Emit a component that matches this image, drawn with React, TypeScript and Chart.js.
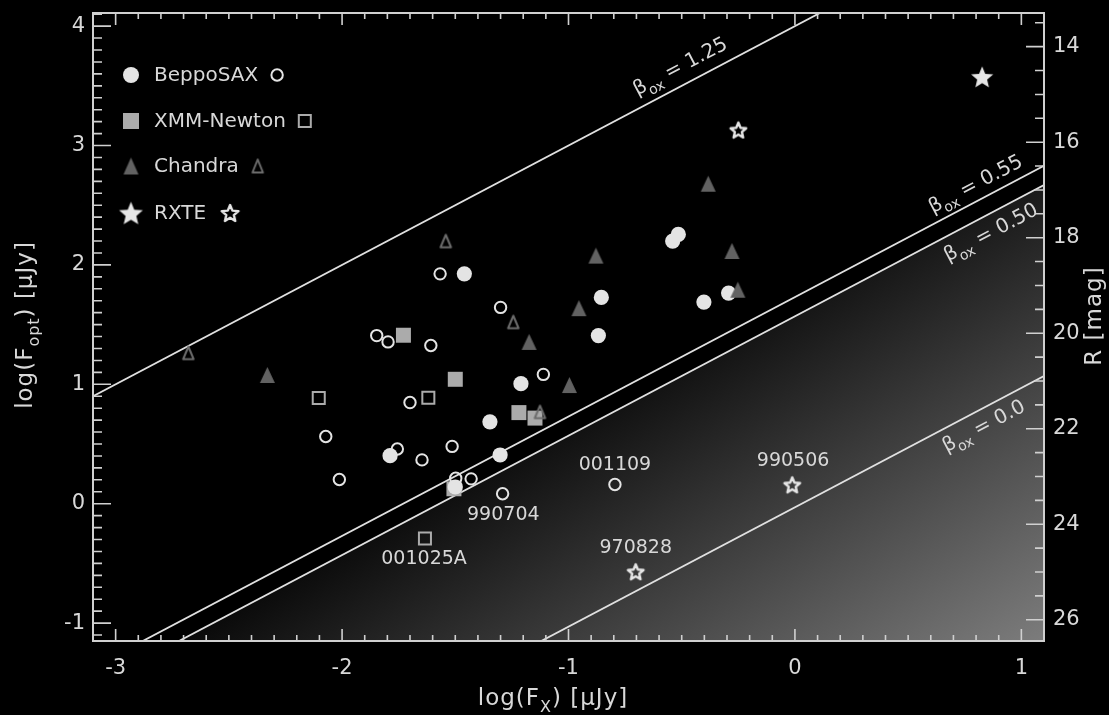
import React, { useEffect, useRef } from 'react';
import { Chart, registerables } from 'chart.js';

Chart.register(...registerables);

// ---- axis ranges ----
const X_MIN = -3.1;
const X_MAX = 1.1;
const Y_MIN = -1.15;
const Y_MAX = 4.11;
const R_MIN = 13.295; // R [mag] at top
const R_MAX = 26.445; // R [mag] at bottom

// ---- BeppoSAX ----
const saxFilledX = [-1.46, -0.855, -0.868, -1.21, -1.347, -1.302, -1.788, -1.5, -0.54, -0.515, -0.402, -0.293];
const saxFilledY = [1.925, 1.728, 1.408, 1.005, 0.686, 0.408, 0.402, 0.14, 2.2, 2.255, 1.689, 1.764];
const saxOpenX = [-2.072, -2.012, -1.847, -1.797, -1.756, -1.567, -1.3, -1.608, -1.7, -1.111, -1.647, -1.514, -1.498, -1.43, -1.291, -0.795];
const saxOpenY = [0.563, 0.203, 1.408, 1.355, 0.458, 1.925, 1.644, 1.325, 0.847, 1.083, 0.367, 0.48, 0.213, 0.208, 0.083, 0.161];
// ---- XMM-Newton ----
const xmmFilledX = [-1.729, -1.5, -1.219, -1.148, -1.506];
const xmmFilledY = [1.411, 1.042, 0.763, 0.717, 0.125];
const xmmOpenX = [-2.103, -1.619, -1.634];
const xmmOpenY = [0.886, 0.888, -0.292];
// ---- Chandra ----
const chaFilledX = [-2.33, -1.174, -0.996, -0.383, -0.879, -0.278, -0.954, -0.252];
const chaFilledY = [1.078, 1.355, 0.994, 2.68, 2.078, 2.117, 1.638, 1.792];
const chaOpenX = [-2.679, -1.542, -1.244, -1.126];
const chaOpenY = [1.263, 2.2, 1.522, 0.769];
// ---- RXTE ----
const rxteFilledX = [0.827];
const rxteFilledY = [3.575];
const rxteOpenX = [-0.25, -0.012, -0.703];
const rxteOpenY = [3.13, 0.158, -0.57];

// ---- beta_ox lines (end points) ----
const betaLineX = [-3.3, 1.3];
const beta125Y = [0.7, 5.3];
const beta055Y = [-1.57, 3.03];
const beta050Y = [-1.73, 2.87];
const beta000Y = [-3.33, 1.27];
const betaTexts = ['1.25', '0.55', '0.50', '0.0'];
const betaLabelX = [-0.47, 0.83, 0.83, 0.8];
const betaLabelSide = [-19, -17, 16, 15];

// ---- burst annotations ----
const annoLabels = ['001025A', '990704', '001109', '970828', '990506'];
const annoX = [-1.638, -1.288, -0.795, -0.703, -0.008];
const annoY = [-0.465, -0.092, 0.325, -0.375, 0.36];

// ---- legend ----
const legendLabels = ['BeppoSAX', 'XMM-Newton', 'Chandra', 'RXTE'];

const FONT = "'DejaVu Sans', 'Liberation Sans', sans-serif";
const TEXT = '#d8d8d8';
const AXIS = '#d0d0d0';
const LINE = '#e0e0e0';
const SAX_C = '#e4e4e4';
const XMM_C = '#ababab';
const CHA_F = '#626262';
const CHA_O = '#6c6c6c';
const RX_C = '#e6e6e6';

const pts = (xs: number[], ys: number[]) => xs.map((x, i) => ({ x, y: ys[i] }));

function makeTri(w: number, h: number, color: string, hollow: boolean, lw: number) {
  const c = document.createElement('canvas');
  const pad = lw + 2;
  c.width = Math.ceil(w + pad * 2);
  c.height = Math.ceil(h + pad * 2);
  const g = c.getContext('2d')!;
  const cx = c.width / 2, cy = c.height / 2;
  g.beginPath();
  g.moveTo(cx, cy - h / 2);
  g.lineTo(cx + w / 2, cy + h / 2);
  g.lineTo(cx - w / 2, cy + h / 2);
  g.closePath();
  if (hollow) {
    g.lineWidth = lw;
    g.lineJoin = 'round';
    g.strokeStyle = color;
    g.stroke();
  } else {
    g.fillStyle = color;
    g.fill();
  }
  return c;
}

function makeStar(R: number, ratio: number, color: string, hollow: boolean, lw: number) {
  const c = document.createElement('canvas');
  const size = Math.ceil(R * 2 + lw + 4);
  c.width = size;
  c.height = size;
  const g = c.getContext('2d')!;
  g.translate(size / 2, size / 2 + R * 0.095);
  g.beginPath();
  for (let i = 0; i < 10; i++) {
    const r = i % 2 === 0 ? R : R * ratio;
    const ang = -Math.PI / 2 + (i * Math.PI) / 5;
    g.lineTo(r * Math.cos(ang), r * Math.sin(ang));
  }
  g.closePath();
  if (hollow) {
    g.lineWidth = lw;
    g.lineJoin = 'round';
    g.strokeStyle = color;
    g.stroke();
  } else {
    g.fillStyle = color;
    g.fill();
  }
  return c;
}

type Part = { t: string; sub?: boolean };
function drawRich(ctx: CanvasRenderingContext2D, parts: Part[], x: number, y: number, rot: number, size: number, spacing = 0) {
  ctx.save();
  ctx.translate(x, y);
  ctx.rotate(rot);
  ctx.textAlign = 'left';
  ctx.textBaseline = 'alphabetic';
  (ctx as any).letterSpacing = spacing + 'px';
  const subSize = Math.round(size * 0.68);
  let w = 0;
  const widths = parts.map((p) => {
    ctx.font = `${p.sub ? subSize : size}px ${FONT}`;
    const m = ctx.measureText(p.t).width;
    w += m;
    return m;
  });
  let cx = -w / 2;
  parts.forEach((p, i) => {
    ctx.font = `${p.sub ? subSize : size}px ${FONT}`;
    ctx.fillText(p.t, cx, size * 0.36 + (p.sub ? size * 0.3 : 0));
    cx += widths[i];
  });
  ctx.restore();
}

export default function App() {
  const ref = useRef<HTMLCanvasElement>(null);

  useEffect(() => {
    document.body.style.margin = '0';
    document.body.style.background = '#000';
    const canvas = ref.current!;

    const chaFImg = makeTri(15, 16, CHA_F, false, 0);
    const chaOImg = makeTri(10.5, 12.5, CHA_O, true, 2);
    const starFImg = makeStar(11.6, 0.45, RX_C, false, 0);
    const starOImg = makeStar(8.2, 0.45, RX_C, true, 2.4);
    const legChaF = makeTri(15, 17, CHA_F, false, 0);
    const legChaO = makeTri(10.5, 13, CHA_O, true, 2);
    const legStarF = makeStar(12.5, 0.45, RX_C, false, 0);
    const legStarO = makeStar(8.8, 0.45, RX_C, true, 2.4);

    const decor = {
      id: 'decor',
      afterDatasetsDraw(chart: any) {
        const { ctx, chartArea: a } = chart;
        const sx = chart.scales.x, sy = chart.scales.y, sr = chart.scales.y2;
        ctx.save();
        // frame
        ctx.strokeStyle = AXIS;
        ctx.lineWidth = 2;
        ctx.strokeRect(a.left, a.top, a.right - a.left, a.bottom - a.top);
        ctx.lineWidth = 1.6;
        ctx.beginPath();
        for (let k = Math.ceil(X_MIN * 10); k <= Math.floor(X_MAX * 10); k++) {
          const px = sx.getPixelForValue(k / 10);
          const len = k % 10 === 0 ? 12 : 6;
          ctx.moveTo(px, a.bottom);
          ctx.lineTo(px, a.bottom - len);
          ctx.moveTo(px, a.top);
          ctx.lineTo(px, a.top + len);
        }
        for (let k = Math.ceil(Y_MIN * 10); k <= Math.floor(Y_MAX * 10); k++) {
          const py = sy.getPixelForValue(k / 10);
          const len = k % 10 === 0 ? 18 : 9;
          ctx.moveTo(a.left, py);
          ctx.lineTo(a.left + len, py);
        }
        for (let k = Math.ceil(R_MIN * 2); k <= Math.floor(R_MAX * 2); k++) {
          const py = sr.getPixelForValue(k / 2);
          const len = k % 4 === 0 ? 18 : 9;
          ctx.moveTo(a.right, py);
          ctx.lineTo(a.right - len, py);
        }
        ctx.stroke();

        // annotations
        ctx.fillStyle = TEXT;
        ctx.font = `19px ${FONT}`;
        ctx.textAlign = 'center';
        ctx.textBaseline = 'middle';
        annoLabels.forEach((t, i) => {
          ctx.fillText(t, sx.getPixelForValue(annoX[i]), sy.getPixelForValue(annoY[i]));
        });

        // beta labels
        const lines = [beta125Y, beta055Y, beta050Y, beta000Y];
        lines.forEach((ly, i) => {
          const x0 = sx.getPixelForValue(betaLineX[0]);
          const x1 = sx.getPixelForValue(betaLineX[1]);
          const y0 = sy.getPixelForValue(ly[0]);
          const y1 = sy.getPixelForValue(ly[1]);
          const ang = Math.atan2(y1 - y0, x1 - x0);
          const t = (betaLabelX[i] - betaLineX[0]) / (betaLineX[1] - betaLineX[0]);
          const yv = ly[0] + t * (ly[1] - ly[0]);
          const ax = sx.getPixelForValue(betaLabelX[i]);
          const ay = sy.getPixelForValue(yv);
          ctx.save();
          ctx.translate(ax, ay);
          ctx.rotate(ang);
          ctx.fillStyle = TEXT;
          drawRich(ctx, [{ t: 'β' }, { t: 'ox', sub: true }, { t: ' = ' + betaTexts[i] }], 0, betaLabelSide[i], 0, 20);
          ctx.restore();
        });

        // legend
        const mx = a.left + 38;
        const tx = a.left + 61;
        const rows = [62, 108, 153, 200].map((d) => a.top + d);
        ctx.font = `20px ${FONT}`;
        ctx.textAlign = 'left';
        ctx.textBaseline = 'middle';
        legendLabels.forEach((lab, i) => {
          const y = rows[i];
          ctx.fillStyle = TEXT;
          ctx.fillText(lab, tx, y + 1);
          const hx = tx + ctx.measureText(lab).width + (i === 3 ? 24 : 19);
          if (i === 0) {
            ctx.fillStyle = SAX_C;
            ctx.beginPath(); ctx.arc(mx, y, 8, 0, Math.PI * 2); ctx.fill();
            ctx.strokeStyle = SAX_C; ctx.lineWidth = 2;
            ctx.beginPath(); ctx.arc(hx, y, 5.7, 0, Math.PI * 2); ctx.stroke();
          } else if (i === 1) {
            ctx.fillStyle = XMM_C;
            ctx.fillRect(mx - 8, y - 8, 16, 16);
            ctx.strokeStyle = XMM_C; ctx.lineWidth = 2;
            ctx.strokeRect(hx - 6, y - 6, 12, 12);
          } else if (i === 2) {
            ctx.drawImage(legChaF, mx - legChaF.width / 2, y - legChaF.height / 2);
            ctx.drawImage(legChaO, hx - legChaO.width / 2, y - legChaO.height / 2);
          } else {
            ctx.drawImage(legStarF, mx - legStarF.width / 2, y - legStarF.height / 2);
            ctx.drawImage(legStarO, hx - legStarO.width / 2, y - legStarO.height / 2);
          }
        });
        ctx.restore();
      },
      afterDraw(chart: any) {
        const { ctx } = chart;
        ctx.save();
        ctx.fillStyle = TEXT;
        drawRich(ctx, [{ t: 'log(F' }, { t: 'opt', sub: true }, { t: ') [μJy]' }], 24, 325, -Math.PI / 2, 23, 1);
        drawRich(ctx, [{ t: 'log(F' }, { t: 'X', sub: true }, { t: ') [μJy]' }], 553, 697, 0, 23, 1);
        drawRich(ctx, [{ t: 'R [mag]' }], 1093, 316, -Math.PI / 2, 23, 1);
        ctx.restore();
      },
    };

    const gradientFill = (c: any) => {
      const a = c.chart.chartArea;
      if (!a) return 'rgba(0,0,0,0)';
      const g = c.chart.ctx.createLinearGradient(a.right - 260, a.bottom - 420, a.right, a.bottom);
      g.addColorStop(0, '#000000');
      g.addColorStop(1, '#7c7c7c');
      return g;
    };

    const tickFont = { family: FONT, size: 21 };

    const chart = new Chart(canvas, {
      type: 'scatter',
      data: {
        datasets: [
          { data: pts(chaFilledX, chaFilledY), pointStyle: chaFImg as any, pointRadius: 8, order: 1 },
          { data: pts(chaOpenX, chaOpenY), pointStyle: chaOImg as any, pointRadius: 7, order: 2 },
          { data: pts(rxteFilledX, rxteFilledY), pointStyle: starFImg as any, pointRadius: 12, order: 3 },
          { data: pts(rxteOpenX, rxteOpenY), pointStyle: starOImg as any, pointRadius: 9, order: 3 },
          {
            data: pts(saxOpenX, saxOpenY), pointStyle: 'circle', pointRadius: 5.7,
            pointBackgroundColor: 'rgba(0,0,0,0)', pointBorderColor: SAX_C, pointBorderWidth: 2, order: 4,
          },
          {
            data: pts(saxFilledX, saxFilledY), pointStyle: 'circle', pointRadius: 7.6,
            pointBackgroundColor: SAX_C, pointBorderWidth: 0, order: 5,
          },
          {
            data: pts(xmmFilledX, xmmFilledY), pointStyle: 'rect', pointRadius: 10.6,
            pointBackgroundColor: XMM_C, pointBorderWidth: 0, order: 6,
          },
          {
            data: pts(xmmOpenX, xmmOpenY), pointStyle: 'rect', pointRadius: 8.5,
            pointBackgroundColor: 'rgba(0,0,0,0)', pointBorderColor: XMM_C, pointBorderWidth: 2, order: 7,
          },
          { type: 'line', data: pts(betaLineX, beta125Y), borderColor: LINE, borderWidth: 1.8, pointRadius: 0, fill: false, order: 10 } as any,
          { type: 'line', data: pts(betaLineX, beta055Y), borderColor: LINE, borderWidth: 1.8, pointRadius: 0, fill: false, order: 10 } as any,
          { type: 'line', data: pts(betaLineX, beta000Y), borderColor: LINE, borderWidth: 1.8, pointRadius: 0, fill: false, order: 10 } as any,
          {
            type: 'line', data: pts(betaLineX, beta050Y), borderColor: LINE, borderWidth: 1.8, pointRadius: 0,
            fill: 'start', backgroundColor: gradientFill, order: 20,
          } as any,
        ],
      },
      options: {
        animation: false,
        responsive: false,
        devicePixelRatio: 1,
        layout: { padding: { top: 10, left: 0, right: 0, bottom: 0 } },
        plugins: { legend: { display: false }, tooltip: { enabled: false } },
        events: [],
        scales: {
          x: {
            type: 'linear', position: 'bottom', min: X_MIN, max: X_MAX,
            grid: { display: false, drawTicks: false }, border: { display: false },
            ticks: { stepSize: 1, includeBounds: false, autoSkip: false, maxRotation: 0, color: TEXT, font: tickFont, padding: 15 },
            afterFit: (s: any) => { s.height = 74; s.paddingLeft = 0; s.paddingRight = 0; },
          },
          y: {
            type: 'linear', position: 'left', min: Y_MIN, max: Y_MAX,
            grid: { display: false, drawTicks: false }, border: { display: false },
            ticks: { stepSize: 1, includeBounds: false, autoSkip: false, color: TEXT, font: tickFont, padding: 8 },
            afterFit: (s: any) => { s.width = 93; s.paddingTop = 0; s.paddingBottom = 0; },
          },
          y2: {
            type: 'linear', position: 'right', min: R_MIN, max: R_MAX, reverse: true,
            grid: { display: false, drawTicks: false }, border: { display: false },
            ticks: { stepSize: 2, includeBounds: false, autoSkip: false, color: TEXT, font: tickFont, padding: 9 },
            afterFit: (s: any) => { s.width = 65; s.paddingTop = 0; s.paddingBottom = 0; },
          },
        },
      } as any,
      plugins: [decor],
    });
    return () => chart.destroy();
  }, []);

  return (
    <div style={{ width: 1109, height: 715, background: '#000' }}>
      <canvas ref={ref} width={1109} height={715} style={{ display: 'block' }} />
    </div>
  );
}
